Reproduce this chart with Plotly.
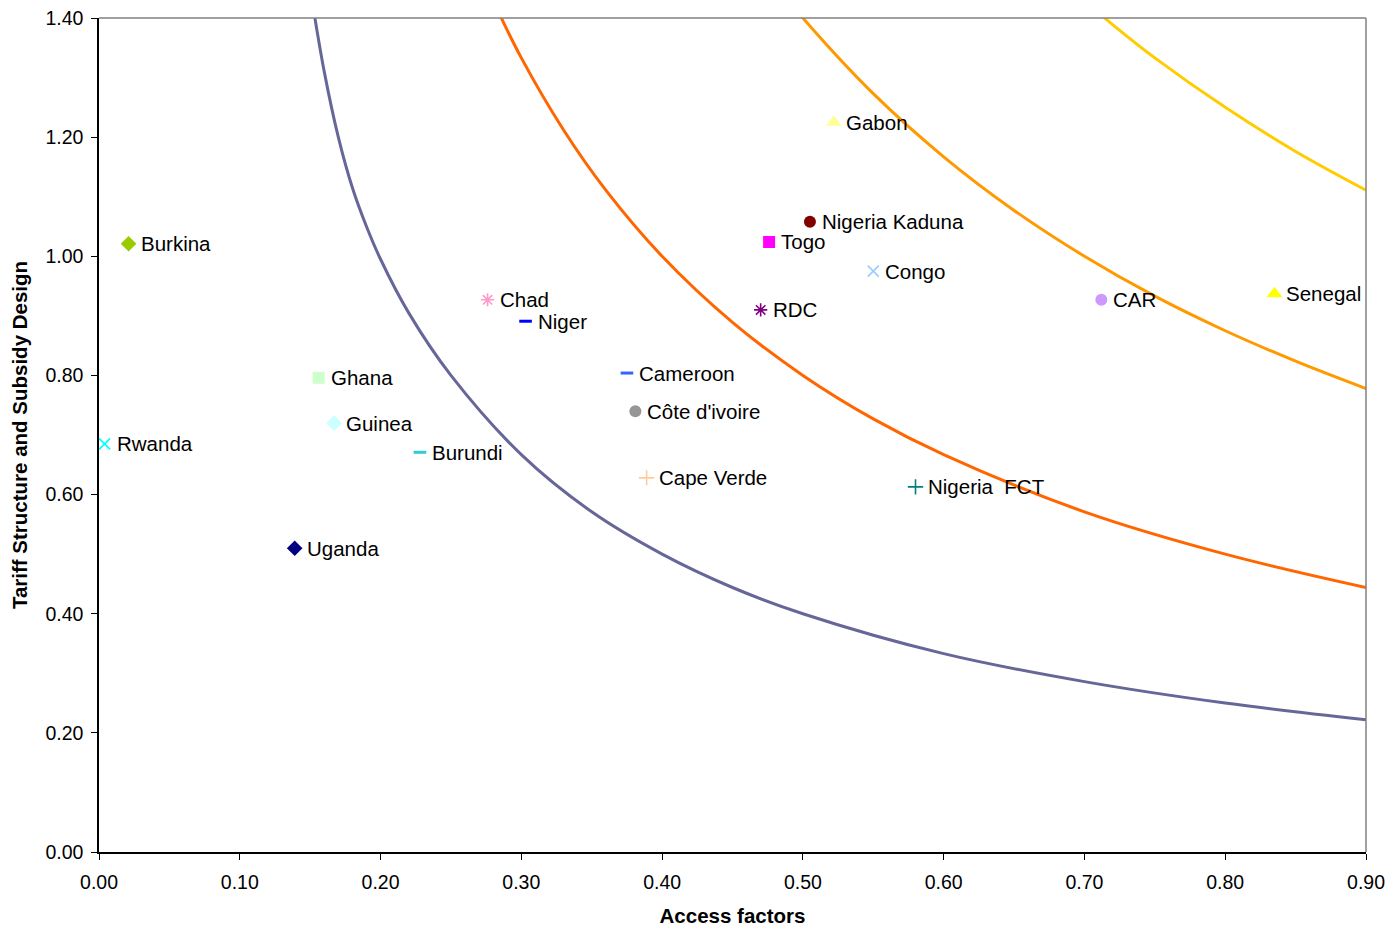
import plotly.graph_objects as go

# ---- data ----
countries = ["Burkina", "Rwanda", "Uganda", "Ghana", "Guinea", "Burundi", "Chad", "Niger",
             "Cameroon", "Côte d'ivoire", "Cape Verde", "RDC", "Togo", "Nigeria Kaduna",
             "Gabon", "Congo", "Nigeria  FCT", "CAR", "Senegal"]
access = [0.021, 0.004, 0.139, 0.156, 0.167, 0.228, 0.276, 0.303,
          0.375, 0.381, 0.389, 0.470, 0.476, 0.505,
          0.522, 0.550, 0.580, 0.712, 0.835]
tariff = [1.021, 0.685, 0.510, 0.796, 0.720, 0.671, 0.927, 0.891,
          0.804, 0.740, 0.628, 0.910, 1.024, 1.058,
          1.225, 0.975, 0.613, 0.927, 0.937]
symbols = ["diamond", "x-thin", "diamond", "square", "diamond", "line-ew", "asterisk", "line-ew",
           "line-ew", "circle", "cross-thin", "asterisk", "square", "circle",
           "triangle-up", "x-thin", "cross-thin", "circle", "triangle-up"]
colors = ["#99CC00", "#00FFFF", "#000080", "#CCFFCC", "#CCFFFF", "#33CCCC", "#FF99CC", "#0000FF",
          "#3366FF", "#969696", "#FFCC99", "#800080", "#FF00FF", "#800000",
          "#FFFF99", "#99CCFF", "#008080", "#CC99FF", "#FFFF00"]

# iso-curves
curve1_x = [0.152, 0.16, 0.17, 0.18, 0.19, 0.20, 0.22, 0.25, 0.30, 0.35, 0.40, 0.45, 0.50, 0.60, 0.70, 0.80, 0.90]
curve1_y = [1.42, 1.31, 1.20, 1.115, 1.05, 0.995, 0.905, 0.80, 0.667, 0.571, 0.50, 0.444, 0.40, 0.333, 0.286, 0.25, 0.222]
curve2_x = [0.28, 0.30, 0.33, 0.36, 0.40, 0.45, 0.50, 0.55, 0.60, 0.70, 0.80, 0.90]
curve2_y = [1.429, 1.333, 1.212, 1.111, 1.00, 0.889, 0.80, 0.727, 0.667, 0.571, 0.50, 0.444]
curve3_x = [0.49, 0.50, 0.55, 0.60, 0.65, 0.70, 0.75, 0.80, 0.85, 0.90]
curve3_y = [1.429, 1.40, 1.273, 1.167, 1.077, 1.00, 0.933, 0.875, 0.824, 0.778]
curve4_x = [0.70, 0.72, 0.75, 0.80, 0.85, 0.90]
curve4_y = [1.429, 1.389, 1.333, 1.25, 1.176, 1.111]
curve_colors = ["#666699", "#FF6600", "#FF9900", "#FFCC00"]

FONT = "Liberation Sans, Arial"

fig = go.Figure()
for cx, cy, cc in zip([curve1_x, curve2_x, curve3_x, curve4_x],
                      [curve1_y, curve2_y, curve3_y, curve4_y], curve_colors):
    fig.add_trace(go.Scatter(x=cx, y=cy, mode="lines", line=dict(color=cc, width=3, shape="spline"),
                             hoverinfo="skip", showlegend=False, cliponaxis=True))

for name, xv, yv, sym, col in zip(countries, access, tariff, symbols, colors):
    size = 12
    lw = 0
    if sym in ("x-thin", "cross-thin"):
        size, lw = 11, 1.6
    elif sym == "asterisk":
        size, lw = 11, 1.6
    elif sym == "line-ew":
        size, lw = 9, 3
    elif sym == "triangle-up":
        size = 14
    fig.add_trace(go.Scatter(x=[xv], y=[yv], mode="markers", name=name, showlegend=False,
                             marker=dict(symbol=sym, size=size, color=col,
                                         line=dict(color=col, width=lw)),
                             cliponaxis=False))
    fig.add_annotation(x=xv, y=yv, text=name, showarrow=False, xanchor="left", yanchor="middle",
                       xshift=10, yshift=0, font=dict(family=FONT, size=20.5, color="black"))

# the page body adds an 8px offset, so the figure is sized/margined to compensate
fig.update_layout(
    width=1387, height=919,
    margin=dict(l=91, r=29, t=10, b=75),
    plot_bgcolor="white", paper_bgcolor="white",
    font=dict(family=FONT, size=19, color="black"),
    xaxis=dict(range=[0, 0.9], tick0=0, dtick=0.1, tickformat=".2f", showgrid=False, zeroline=False,
               automargin=False, ticklabeloverflow="allow", ticklabelstandoff=6,
               showline=True, linecolor="black", linewidth=1.5, ticks="outside", ticklen=6,
               tickcolor="black", tickfont=dict(size=19.5),
               title=dict(text="<b>Access factors</b>", font=dict(size=20.5), standoff=18)),
    yaxis=dict(range=[0, 1.4], tick0=0, dtick=0.2, tickformat=".2f", showgrid=False, zeroline=False,
               automargin=False, ticklabeloverflow="allow", ticklabelstandoff=4,
               showline=True, linecolor="black", linewidth=1.5, ticks="outside", ticklen=6,
               tickcolor="black", tickfont=dict(size=19.5),
               title=dict(text="<b>Tariff Structure and Subsidy Design</b>", font=dict(size=20.5), standoff=12)),
    shapes=[
        dict(type="line", xref="paper", yref="paper", x0=0, x1=1, y0=1, y1=1, line=dict(color="#808080", width=1.5)),
        dict(type="line", xref="paper", yref="paper", x0=1, x1=1, y0=0, y1=1, line=dict(color="#808080", width=1.5)),
    ],
)

fig.write_html("out.html")
